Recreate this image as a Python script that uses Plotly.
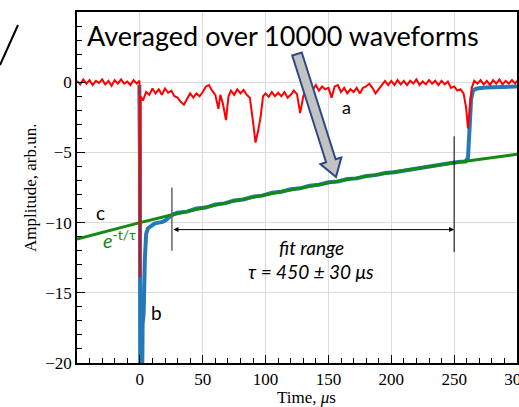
import plotly.graph_objects as go
import math

# ---------------- data ----------------
# trace a (red): single waveform
red_t = [-50, -47.5, -45, -42.5, -40, -37.5, -35, -32.5, -30, -27.5, -25, -22.5, -20, -17.5, -15,
         -12.5, -10, -7.5, -5, -2.5, -0.3, 0.1, 0.6, 2.5, 5, 7.5, 10, 12.5, 15, 17.5, 20, 22.5, 25,
         27.5, 30, 32.5, 35, 37.5, 40, 42.5, 45, 47.5, 50, 52.5, 55, 57.5, 60, 62.5, 64, 66, 68.5,
         70.5, 72.5, 75, 77.5, 80, 82.5, 85, 87.5, 90, 92, 94, 96, 98, 100, 102.5, 105, 107.5, 110,
         112.5, 115, 117.5, 120, 122.5, 125, 127.5, 130, 132.5, 135, 137.5, 140, 142.5, 145, 147.5,
         150, 152.5, 155, 157.5, 160, 162.5, 165, 167.5, 170, 172.5, 175, 177.5, 180, 182.5, 185,
         187.5, 190, 192.5, 195, 197.5, 200, 202.5, 205, 207.5, 210, 212.5, 215, 217.5, 220, 222.5,
         225, 227.5, 230, 232.5, 235, 237.5, 240, 242.5, 245, 247.5, 250, 252.5, 255, 257.5, 259.5,
         261, 262.5, 264, 266, 268.5, 271, 273.5, 276, 278.5, 281, 283.5, 286, 288.5, 291, 293.5,
         296, 298.5, 300]
red_y = [0.1, -0.15, 0.2, -0.1, 0.15, -0.2, 0.1, -0.05, 0.2, -0.15, 0.1, -0.25, 0.15, -0.1, 0.2,
         -0.1, 0.05, -0.2, 0.15, -0.1, 0.1, -13.9, -1.0, -1.3, -0.7, -0.9, -0.45, -0.8, -0.5, -0.9,
         -0.45, -0.75, -0.6, -1.0, -1.1, -1.4, -1.6, -1.2, -0.8, -1.1, -0.8, -1.0, -0.7, -0.3, -0.2,
         -0.6, -0.9, -1.9, -0.9, -1.5, -2.7, -1.0, -0.6, -0.9, -0.5, -0.8, -0.55, -0.9, -1.1, -2.8,
         -4.3, -3.5, -2.5, -1.0, -0.8, -1.05, -0.7, -1.0, -0.75, -1.0, -0.7, -1.1, -0.9, -0.6,
         -0.85, -2.2, -1.0, -0.4, -0.3, -0.55, -0.2, -0.6, -0.3, -0.5, -0.4, -1.1, -0.3, -0.2,
         -0.7, -0.4, -0.8, -0.5, -0.7, -0.4, -0.8, -0.4, -0.3, -0.1, -0.4, -0.8, -0.5, -0.2, 0.1,
         -0.2, 0.1, -0.2, 0.15, -0.15, 0.1, -0.2, 0.1, -0.1, 0.2, -0.2, 0.05, -0.15, 0.15, -0.1,
         0.1, -0.2, 0.1, -0.15, 0.05, -0.4, -0.3, -0.6, -0.5, -0.8, -1.8, -3.3, -2.0, -0.4, 0.1,
         -0.1, 0.15, -0.15, 0.1, -0.2, 0.15, -0.1, 0.2, -0.15, 0.1, -0.1, 0.15, -0.1, 0.1]

# trace b (blue): averaged waveform
blue_t = [-0.4, 0.0, 0.3, 1.8, 2.2, 3, 4, 5, 6.5, 9, 12, 15, 18, 21, 24, 27, 30, 37.5, 45, 52.5,
          60, 67.5, 75, 82.5, 90, 97.5, 105, 112.5, 120, 127.5, 135, 142.5, 150, 157.5, 165,
          172.5, 180, 187.5, 195, 202.5, 210, 217.5, 225, 232.5, 240, 247.5, 255, 259, 261,
          262.5, 263.5, 265, 268, 275, 285, 300]
blue_y = [-0.2, -5.0, -22.0, -22.0, -17.2, -16.5, -12.5, -10.8, -10.4, -10.2, -10.05, -10.0,
          -9.95, -9.8, -9.55, -9.4, -9.3, -9.22, -9.0, -8.93, -8.7, -8.63, -8.42, -8.35, -8.15,
          -8.08, -7.88, -7.8, -7.62, -7.56, -7.37, -7.3, -7.13, -7.07, -6.9, -6.85, -6.68, -6.62,
          -6.47, -6.42, -6.3, -6.2, -6.1, -5.97, -5.88, -5.76, -5.66, -5.65, -5.4, -3.0, -1.2,
          -0.6, -0.45, -0.38, -0.35, -0.3]

# curve c (green): exponential fit e^(-t/tau)
green_t = [-50, -25, 0, 25, 50, 75, 100, 125, 150, 175, 200, 225, 250, 275, 300]
green_y = [-11.17, -10.57, -10.0, -9.46, -8.95, -8.47, -8.01, -7.58, -7.17, -6.78, -6.41,
           -6.07, -5.74, -5.43, -5.13]

x_ticks = [0, 50, 100, 150, 200, 250, 300]
y_ticks = [-20, -15, -10, -5, 0]

fit_start, fit_end = 25.5, 250

# ---------------- figure ----------------
W, H = 519, 407
L, R, T, B = 77, 2, 12, 44
PW, PH = W - L - R, H - T - B

def px2paper(px, py):
    return (px - L) / PW, (H - B - py) / PH

fig = go.Figure()
fig.add_trace(go.Scatter(x=blue_t, y=blue_y, mode="lines",
                         line=dict(color="#2679b8", width=4), name="b"))
fig.add_trace(go.Scatter(x=green_t, y=green_y, mode="lines",
                         line=dict(color="#138a13", width=3), name="c"))
fig.add_trace(go.Scatter(x=red_t, y=red_y, mode="lines",
                         line=dict(color="#ff0000", width=2), name="a"))

serif = "Liberation Serif"
sans = "Lato"

axis_common = dict(showline=True, linecolor="black", linewidth=1.5, mirror=True,
                   ticks="inside", ticklen=8, tickcolor="black", tickwidth=1,
                   showgrid=True, gridcolor="#dcdcdc", gridwidth=1, zeroline=False,
                   ticklabeloverflow="allow", automargin=False,
                   tickfont=dict(family=serif, size=17, color="black"))

fig.update_layout(
    width=W, height=H, margin=dict(l=L, r=R, t=T, b=B, autoexpand=False),
    plot_bgcolor="white", paper_bgcolor="white", showlegend=False,
    xaxis=dict(range=[-50, 300], tickvals=x_ticks,
               minor=dict(tick0=0, dtick=10, ticks="inside", ticklen=5, tickcolor="black",
                          showgrid=False),
               **axis_common),
    yaxis=dict(range=[-20, 5], tickvals=y_ticks,
               minor=dict(tick0=0, dtick=1, ticks="inside", ticklen=5, tickcolor="black",
                          showgrid=False),
               **axis_common),
)

# axis titles
xt = px2paper(306, 397)
fig.add_annotation(x=xt[0], y=xt[1], xref="paper", yref="paper", showarrow=False,
                   xanchor="center", yanchor="middle",
                   text="Time, <i>μ</i>s", font=dict(family=serif, size=17, color="black"))
yt = px2paper(31, 188)
fig.add_annotation(x=yt[0], y=yt[1], xref="paper", yref="paper", showarrow=False,
                   xanchor="center", yanchor="middle",
                   textangle=-90, text="Amplitude, arb.un.",
                   font=dict(family=serif, size=17, color="black"))

# fit range markers
fig.add_shape(type="line", x0=fit_start, x1=fit_start, y0=-7.5, y1=-12.0,
              line=dict(color="#666666", width=1.5))
fig.add_shape(type="line", x0=fit_end, x1=fit_end, y0=-3.85, y1=-12.1,
              line=dict(color="black", width=1))
fig.add_annotation(x=fit_end, y=-10.5, ax=fit_start, ay=-10.5, axref="x", ayref="y",
                   xref="x", yref="y", text="", showarrow=True, arrowhead=2,
                   arrowside="end+start", arrowsize=1, arrowwidth=1, arrowcolor="black",
                   standoff=0, startstandoff=0)

# big block arrow (decorative)
tail = (297, 54)
tip = (336, 177)
dx, dy = tip[0] - tail[0], tip[1] - tail[1]
ln = math.hypot(dx, dy)
ux, uy = dx / ln, dy / ln
nx, ny = -uy, ux
hb = (tip[0] - 17 * ux, tip[1] - 17 * uy)
pts = [
    (tail[0] + 5 * nx, tail[1] + 5 * ny),
    (hb[0] + 5 * nx, hb[1] + 5 * ny),
    (hb[0] + 11 * nx, hb[1] + 11 * ny),
    tip,
    (hb[0] - 11 * nx, hb[1] - 11 * ny),
    (hb[0] - 5 * nx, hb[1] - 5 * ny),
    (tail[0] - 5 * nx, tail[1] - 5 * ny),
]
pp = [px2paper(*p) for p in pts]
path = "M " + " L ".join(f"{a:.5f},{b:.5f}" for a, b in pp) + " Z"
fig.add_shape(type="path", path=path, xref="paper", yref="paper",
              fillcolor="#c3c3c3", line=dict(color="#2e4a86", width=2))

# stray stroke at top-left of the original picture
a0 = px2paper(0, 65)
a1 = px2paper(18, 25)
fig.add_shape(type="line", xref="paper", yref="paper", x0=a0[0], y0=a0[1], x1=a1[0], y1=a1[1],
              line=dict(color="black", width=2))

# texts
tx, ty = px2paper(85, 35)
fig.add_annotation(x=tx, y=ty, xref="paper", yref="paper", xanchor="left", yanchor="middle",
                   text="Averaged over 10000 waveforms", showarrow=False,
                   font=dict(family=sans, size=27, color="black"))
fig.add_annotation(x=164, y=-1.8, text="a", showarrow=False,
                   font=dict(family=sans, size=18, color="black"))
fig.add_annotation(x=13.5, y=-16.4, text="b", showarrow=False,
                   font=dict(family=sans, size=19, color="black"))
fig.add_annotation(x=-31.5, y=-9.3, text="c", showarrow=False,
                   font=dict(family=sans, size=19, color="black"))
fig.add_annotation(x=-31, y=-11.2, xanchor="left", text="<i>e</i><sup>-t/τ</sup>",
                   showarrow=False, font=dict(family=sans, size=20, color="#138a13"))
fig.add_annotation(x=136.5, y=-11.8, text="<i>fit range</i>", showarrow=False,
                   font=dict(family=sans, size=19, color="black"))
fig.add_annotation(x=136.5, y=-13.5, text="<i>τ = 450 ± 30 μs</i>", showarrow=False,
                   font=dict(family=sans, size=19, color="black"))

fig.write_html("out.html")
